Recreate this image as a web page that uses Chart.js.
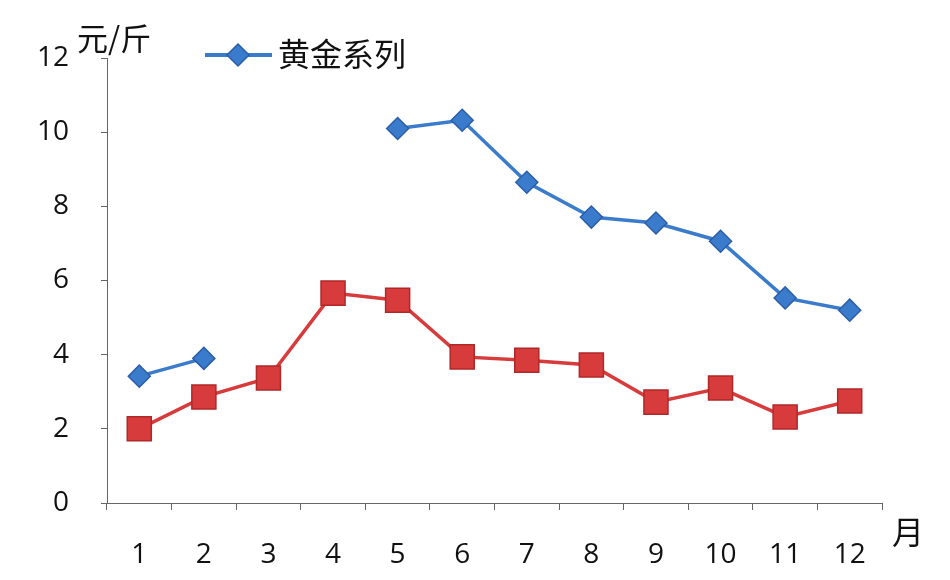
<!DOCTYPE html>
<html>
<head>
<meta charset="utf-8">
<script src="https://cdn.jsdelivr.net/npm/chart.js@4"></script>
<style>
  html, body { margin: 0; padding: 0; background: #fff; }
  #wrap { width: 950px; height: 580px; position: relative; }
</style>
</head>
<body>
<div id="wrap"><canvas id="chart" width="950" height="580"></canvas></div>
<script>
const months = ["1", "2", "3", "4", "5", "6", "7", "8", "9", "10", "11", "12"];
const goldSeries = [3.42, 3.9, null, null, 10.1, 10.32, 8.65, 7.71, 7.55, 7.06, 5.53, 5.2];
const redSeries = [2.0, 2.86, 3.37, 5.66, 5.47, 3.94, 3.85, 3.72, 2.72, 3.1, 2.32, 2.75];
const yTicks = [0, 2, 4, 6, 8, 10, 12];

const legendLabel = "黄金系列";
const yTitle = "元/斤";
const xTitle = "月";

const BLUE = "#3b7bcc";
const BLUE_DARK = "#2a5ea8";
const RED = "#d83b3b";
const RED_DARK = "#b02828";
const AXIS = "#666";
const FONT = "'Open Sans', 'Noto Sans', 'Noto Sans CJK SC', sans-serif";
const CJK = "'Noto Sans CJK SC', sans-serif";

// titles + legend drawn on the canvas
const extras = {
  id: "extras",
  afterDraw(chart) {
    const ctx = chart.ctx;
    ctx.save();
    ctx.fillStyle = "#111";
    ctx.textBaseline = "middle";
    ctx.textAlign = "left";
    ctx.font = "31px " + CJK;
    ctx.fillText(yTitle, 77, 38);
    ctx.font = "32px " + CJK;
    ctx.fillText(xTitle, 892, 532);

    // legend: line + diamond + text
    ctx.strokeStyle = BLUE;
    ctx.lineWidth = 4;
    ctx.beginPath();
    ctx.moveTo(205, 55);
    ctx.lineTo(272, 55);
    ctx.stroke();
    ctx.fillStyle = BLUE;
    ctx.strokeStyle = BLUE_DARK;
    ctx.lineWidth = 1.5;
    ctx.beginPath();
    ctx.moveTo(238, 44);
    ctx.lineTo(249, 55);
    ctx.lineTo(238, 66);
    ctx.lineTo(227, 55);
    ctx.closePath();
    ctx.fill();
    ctx.stroke();
    ctx.fillStyle = "#111";
    ctx.font = "32px " + CJK;
    ctx.fillText(legendLabel, 278, 54);
    ctx.restore();
  }
};

new Chart(document.getElementById("chart"), {
  type: "line",
  data: {
    labels: months,
    datasets: [
      {
        label: legendLabel,
        data: goldSeries,
        borderColor: BLUE,
        backgroundColor: BLUE,
        borderWidth: 3.5,
        pointStyle: "rectRot",
        pointRadius: 11,
        pointBackgroundColor: BLUE,
        pointBorderColor: BLUE_DARK,
        pointBorderWidth: 1.5,
        spanGaps: false,
        tension: 0
      },
      {
        label: "red",
        data: redSeries,
        borderColor: RED,
        backgroundColor: RED,
        borderWidth: 3.5,
        pointStyle: "rect",
        pointRadius: 17,
        pointBackgroundColor: RED,
        pointBorderColor: RED_DARK,
        pointBorderWidth: 1.5,
        tension: 0
      }
    ]
  },
  options: {
    responsive: false,
    animation: false,
    layout: { padding: { top: 58, right: 68, left: 0, bottom: 0 } },
    plugins: {
      legend: { display: false },
      tooltip: { enabled: false }
    },
    scales: {
      x: {
        offset: true,
        grid: {
          offset: true,
          drawOnChartArea: false,
          drawTicks: true,
          tickLength: 7,
          color: AXIS
        },
        border: { display: true, color: AXIS, dash: [2, 2], width: 1 },
        ticks: {
          color: "#111",
          font: { size: 28, family: FONT },
          padding: 28,
          maxRotation: 0,
          autoSkip: false
        },
        afterFit(scale) { scale.height = 77; }
      },
      y: {
        min: 0,
        max: 12,
        afterBuildTicks(scale) { scale.ticks = yTicks.map(v => ({ value: v })); },
        grid: {
          drawOnChartArea: false,
          drawTicks: true,
          tickLength: 6,
          color: AXIS
        },
        border: { display: true, color: AXIS, dash: [2, 2], width: 1 },
        ticks: {
          color: "#111",
          font: { size: 28, family: FONT },
          padding: 32
        },
        afterFit(scale) { scale.width = 107; }
      }
    }
  },
  plugins: [extras]
});
</script>
</body>
</html>
